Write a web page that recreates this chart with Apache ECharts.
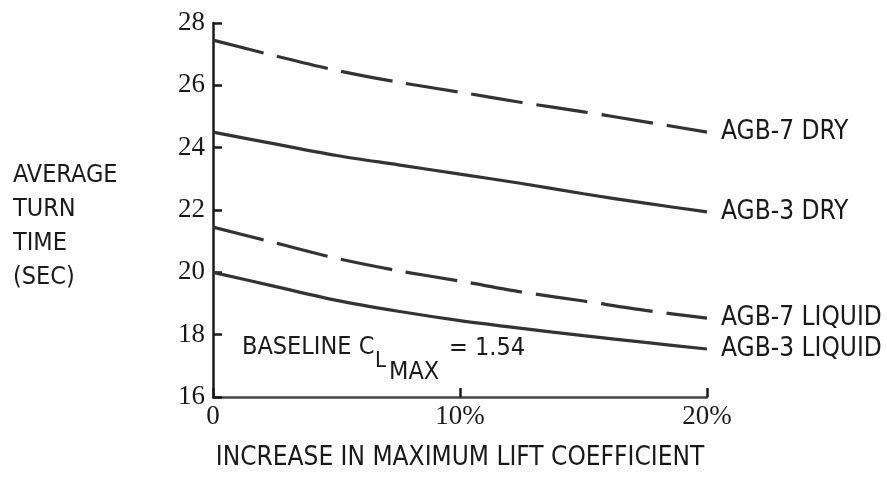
<!DOCTYPE html>
<html>
<head>
<meta charset="utf-8">
<script src="https://cdn.jsdelivr.net/npm/echarts@6/dist/echarts.min.js"></script>
<style>
html,body{margin:0;padding:0;background:#fff;}
#chart{width:887px;height:482px;}
</style>
</head>
<body>
<div id="chart"></div>
<script>
// ---- data ----
const xPct = [0, 2.5, 5, 7.5, 10, 12.5, 15, 17.5, 20];
const agb7Dry    = [27.45, 26.95, 26.48, 26.10, 25.78, 25.45, 25.15, 24.83, 24.50];
const agb3Dry    = [24.50, 24.12, 23.75, 23.45, 23.15, 22.85, 22.52, 22.22, 21.94];
const agb7Liquid = [21.45, 20.95, 20.45, 20.05, 19.72, 19.37, 19.08, 18.78, 18.53];
const agb3Liquid = [20.00, 19.55, 19.10, 18.75, 18.45, 18.20, 17.97, 17.75, 17.54];
const seriesNames = ['AGB-7 DRY', 'AGB-3 DRY', 'AGB-7 LIQUID', 'AGB-3 LIQUID'];
const xTickLabels = {0: '0', 10: '10%', 20: '20%'};
const yTickValues = [16, 18, 20, 22, 24, 26, 28];

const NARROW = "'Liberation Sans Narrow','DejaVu Sans Condensed',sans-serif";
const SERIF = "'Liberation Serif','DejaVu Serif',serif";
const INK = '#1a1a1a';
const LINE = '#333';

function pairs(ys) { return xPct.map((x, i) => [x, ys[i]]); }

function mkSeries(name, ys, dashed) {
  return {
    name: name,
    type: 'line',
    data: pairs(ys),
    smooth: 0.3,
    showSymbol: false,
    silent: true,
    lineStyle: { color: LINE, width: 3.2, type: dashed ? [52, 14] : 'solid' },
    endLabel: {
      show: true,
      formatter: '{a}',
      distance: 14,
      color: INK,
      fontFamily: NARROW,
      fontSize: 26
    }
  };
}

const chart = echarts.init(document.getElementById('chart'), null, { renderer: 'canvas' });
chart.setOption({
  backgroundColor: '#fff',
  animation: false,
  grid: { left: 213, right: 180, top: 23, bottom: 85 },
  xAxis: {
    type: 'value', min: 0, max: 20, interval: 10,
    name: 'INCREASE IN MAXIMUM LIFT COEFFICIENT',
    nameLocation: 'middle', nameGap: 48,
    nameTextStyle: { fontFamily: NARROW, fontSize: 26, color: INK },
    axisLine: { show: true, lineStyle: { color: '#444', width: 2.5 } },
    axisTick: { show: true, inside: true, length: 9, lineStyle: { color: INK, width: 2.5 } },
    axisLabel: {
      margin: 6, color: INK, fontFamily: SERIF, fontSize: 27,
      formatter: v => xTickLabels[v] !== undefined ? xTickLabels[v] : ''
    },
    splitLine: { show: false }
  },
  yAxis: {
    type: 'value', min: yTickValues[0], max: yTickValues[yTickValues.length - 1], interval: 2,
    axisLine: { show: true, lineStyle: { color: INK, width: 2.5 } },
    axisTick: { show: true, inside: true, length: 9, lineStyle: { color: INK, width: 2.5 } },
    axisLabel: { margin: 8, color: INK, fontFamily: SERIF, fontSize: 27 },
    splitLine: { show: false }
  },
  series: [
    mkSeries(seriesNames[0], agb7Dry, true),
    mkSeries(seriesNames[1], agb3Dry, false),
    mkSeries(seriesNames[2], agb7Liquid, true),
    mkSeries(seriesNames[3], agb3Liquid, false)
  ],
  graphic: [
    {
      type: 'text', left: 13, top: 158,
      style: { text: 'AVERAGE\nTURN\nTIME\n(SEC)', fill: INK, font: '25px ' + NARROW, lineHeight: 34 }
    },
    {
      type: 'text', left: 242, top: 335,
      style: { text: 'BASELINE C', fill: INK, font: '25px ' + NARROW }
    },
    {
      type: 'text', left: 375, top: 350,
      style: { text: 'L', fill: INK, font: '22px ' + NARROW }
    },
    {
      type: 'text', left: 389, top: 360,
      style: { text: 'MAX', fill: INK, font: '25px ' + NARROW }
    },
    {
      type: 'text', left: 449, top: 336,
      style: { text: '= 1.54', fill: INK, font: '25px ' + NARROW }
    }
  ]
});
</script>
</body>
</html>
